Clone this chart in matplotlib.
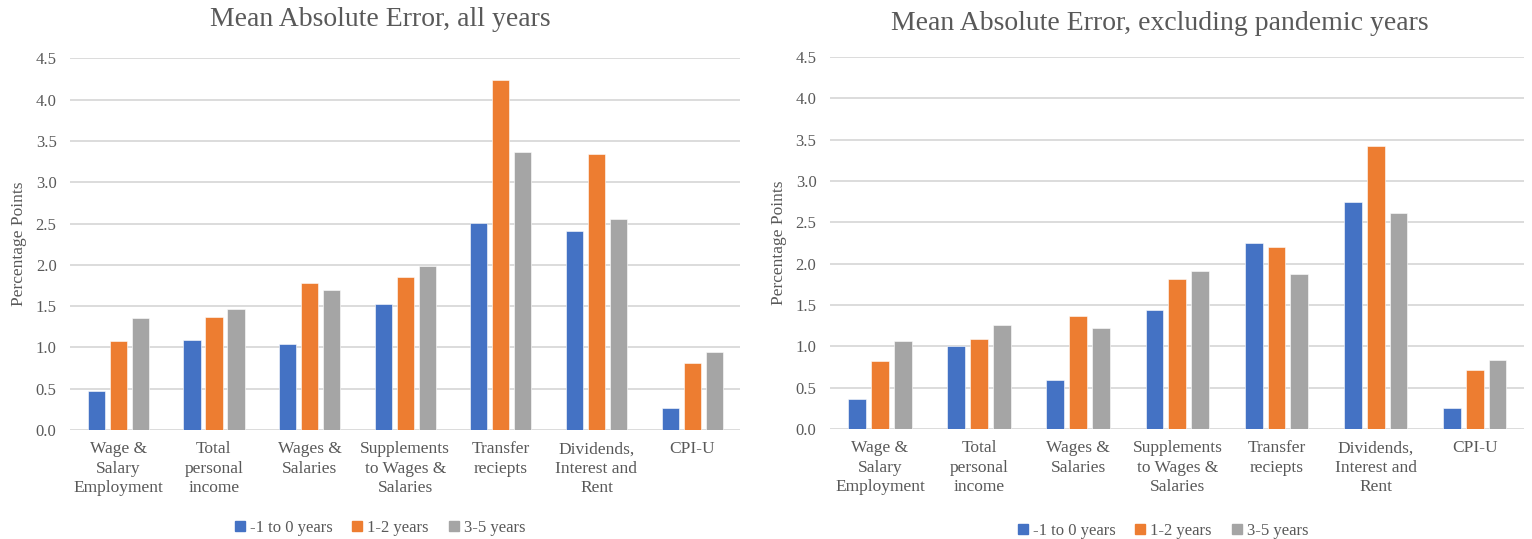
import matplotlib
matplotlib.use("Agg")
import matplotlib.pyplot as plt
import numpy as np
from matplotlib.patches import Patch

categories = ["Wage &\nSalary\nEmployment", "Total\npersonal\nincome", "Wages &\nSalaries",
              "Supplements\nto Wages &\nSalaries", "Transfer\nreciepts", "Dividends,\nInterest and\nRent", "CPI-U"]
series_names = ["-1 to 0 years", "1-2 years", "3-5 years"]

all_m1_0 = [0.47, 1.09, 1.04, 1.52, 2.51, 2.41, 0.27]
all_1_2 = [1.08, 1.37, 1.78, 1.85, 4.24, 3.34, 0.81]
all_3_5 = [1.36, 1.47, 1.69, 1.99, 3.36, 2.56, 0.94]

ex_m1_0 = [0.36, 1.00, 0.59, 1.44, 2.25, 2.75, 0.26]
ex_1_2 = [0.82, 1.09, 1.37, 1.82, 2.20, 3.43, 0.71]
ex_3_5 = [1.06, 1.26, 1.22, 1.91, 1.87, 2.61, 0.84]

titles = ["Mean Absolute Error, all years", "Mean Absolute Error, excluding pandemic years"]
yticks = [0.0, 0.5, 1.0, 1.5, 2.0, 2.5, 3.0, 3.5, 4.0, 4.5]
colors = ["#4472C4", "#ED7D31", "#A5A5A5"]
text_color = "#595959"
font = ["Liberation Serif", "DejaVu Serif"]

plt.rcParams['font.family'] = font

fig = plt.figure(figsize=(15.32, 5.39), dpi=100)
axes_pos = [[0.046, 0.202, 0.437, 0.690], [0.542, 0.204, 0.453, 0.690]]
datasets = [[all_m1_0, all_1_2, all_3_5], [ex_m1_0, ex_1_2, ex_3_5]]
title_pos = [(380 / 1532, 1 - 20 / 539), (1160 / 1532, 1 - 23 / 539)]
legend_pos = [(380 / 1532, 1 - 528 / 539), (1163 / 1532, 1 - 531 / 539)]

for k in range(2):
    ax = fig.add_axes(axes_pos[k])
    x = np.arange(len(categories))
    w = 0.18
    step = 0.23
    for i, vals in enumerate(datasets[k]):
        ax.bar(x + (i - 1) * step, vals, width=w, color=colors[i], zorder=3,
               edgecolor="white", linewidth=0.4)
    ax.set_xlim(-0.5, len(categories) - 0.5)
    ax.set_ylim(0, 4.5)
    ax.set_yticks(yticks)
    ax.set_yticklabels([f"{v:.1f}" for v in yticks], fontsize=12, color=text_color)
    ax.set_xticks(x)
    ax.set_xticklabels(categories, fontsize=12.5, color=text_color, linespacing=1.3)
    ax.yaxis.grid(True, color="#D9D9D9", linewidth=1.3, zorder=0)
    ax.set_axisbelow(True)
    for s in ["top", "right", "left", "bottom"]:
        ax.spines[s].set_visible(False)
    ax.tick_params(axis="both", length=0)
    ax.tick_params(axis="x", pad=8)
    ax.tick_params(axis="y", pad=10)
    ax.set_ylabel("Percentage Points", fontsize=12.5, color=text_color, labelpad=6)
    fig.text(title_pos[k][0], title_pos[k][1], titles[k], fontsize=20, color=text_color,
             ha="center", va="center")
    handles = [Patch(color=colors[i], label=series_names[i]) for i in range(3)]
    fig.legend(handles=handles, loc="center", bbox_to_anchor=legend_pos[k],
               ncol=3, frameon=False, fontsize=12, handlelength=0.6, handleheight=0.6,
               handletextpad=0.3, columnspacing=1.2, labelcolor=text_color,
               borderpad=0, borderaxespad=0)

fig.savefig("out.png", dpi=100, facecolor="white")
